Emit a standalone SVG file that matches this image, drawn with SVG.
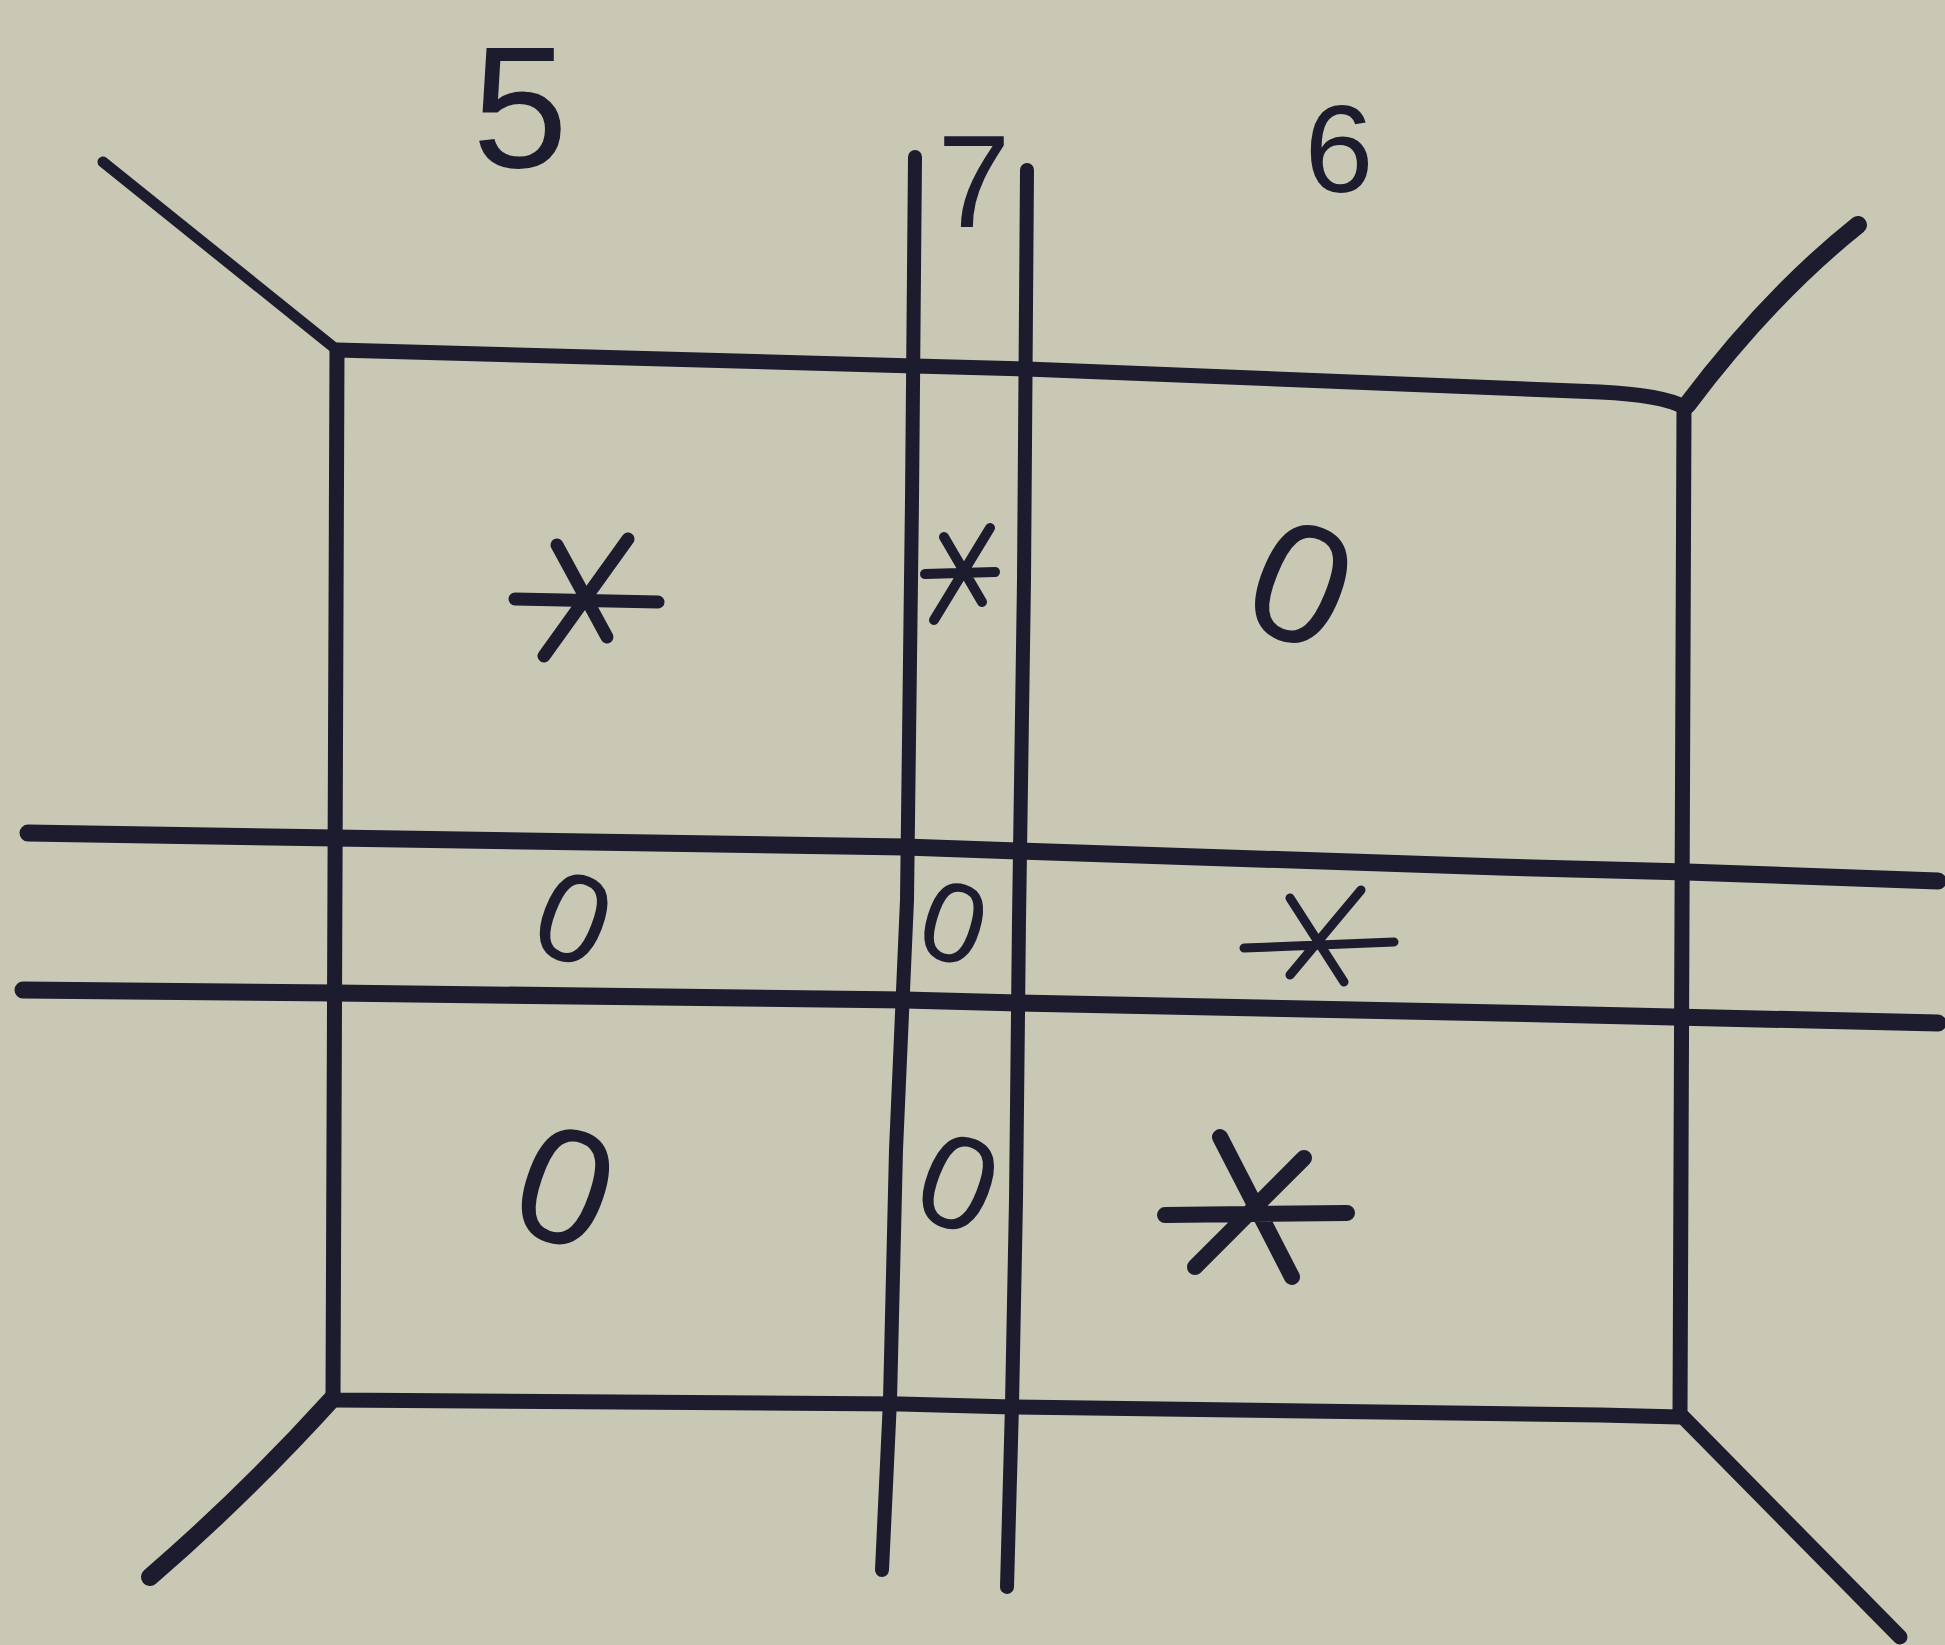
<svg xmlns="http://www.w3.org/2000/svg" width="1945" height="1645" viewBox="0 0 1945 1645">
<style>
.ink{fill:none;stroke:#1d1b2e;stroke-linecap:round;stroke-linejoin:round}
.lbl{font-family:"Liberation Sans",Arial,sans-serif;fill:#1d1b2e;text-anchor:middle}
</style>
<rect x="0" y="0" width="1945" height="1645" fill="#c9c8b5"/>
<g id="frame">
<path class="ink" stroke-width="15" d="M337,350 L915,366 L1027,369 L1600,392 Q1662,395 1684,407 L1680,1417 L1600,1415 L1012,1407 L900,1404 L333,1400 Z"/>
</g>
<g id="corner-lines">
<path class="ink" stroke-width="11" d="M103,162 L337,350"/>
<path class="ink" stroke-width="18" d="M1858,225 Q1770,295 1687,405"/>
<path class="ink" stroke-width="18" d="M150,1577 Q245,1495 333,1398"/>
<path class="ink" stroke-width="15" d="M1683,1417 L1900,1637"/>
</g>
<g id="grid-lines">
<polyline class="ink" stroke-width="14" points="915,157 912,500 907,900 896,1150 890,1400 882,1570"/>
<polyline class="ink" stroke-width="14" points="1027,170 1024,580 1019,920 1016,1200 1012,1405 1007,1587"/>
<polyline class="ink" stroke-width="17" points="28,833 335,838 905,847 1019,851 1500,867 1687,872 1938,881"/>
<polyline class="ink" stroke-width="17" points="23,990 335,993 905,1000 1019,1003 1500,1013 1938,1023"/>
</g>
<g id="labels">
<text class="lbl" x="520" y="167" font-size="172">5</text>
<text class="lbl" x="974" y="227" font-size="131">7</text>
<text class="lbl" x="1339" y="192" font-size="124">6</text>
</g>
<g id="marks-o">
<text class="lbl" font-size="170" transform="translate(1302,582) rotate(22)" y="61">0</text>
<text class="lbl" font-size="126" transform="translate(574,917) rotate(21)" y="45">0</text>
<text class="lbl" font-size="113" transform="translate(954,922) rotate(17)" y="40">0</text>
<text class="lbl" font-size="165" transform="translate(566,1185) rotate(19)" y="59">0</text>
<text class="lbl" font-size="133" transform="translate(959,1181) rotate(21)" y="48">0</text>
</g>
<g id="marks-star">
<path class="ink" stroke-width="13" d="M557,545 L607,637 M628,539 L544,656 M515,599 L658,602"/>
<path class="ink" stroke-width="10" d="M944,537 L982,602 M990,528 L934,620 M925,574 L995,572"/>
<path class="ink" stroke-width="9" d="M1290,898 L1344,982 M1361,890 L1290,975 M1244,948 L1394,942"/>
<path class="ink" stroke-width="16" d="M1220,1137 L1292,1277 M1304,1158 L1195,1267 M1165,1215 L1347,1213"/>
</g>
</svg>
